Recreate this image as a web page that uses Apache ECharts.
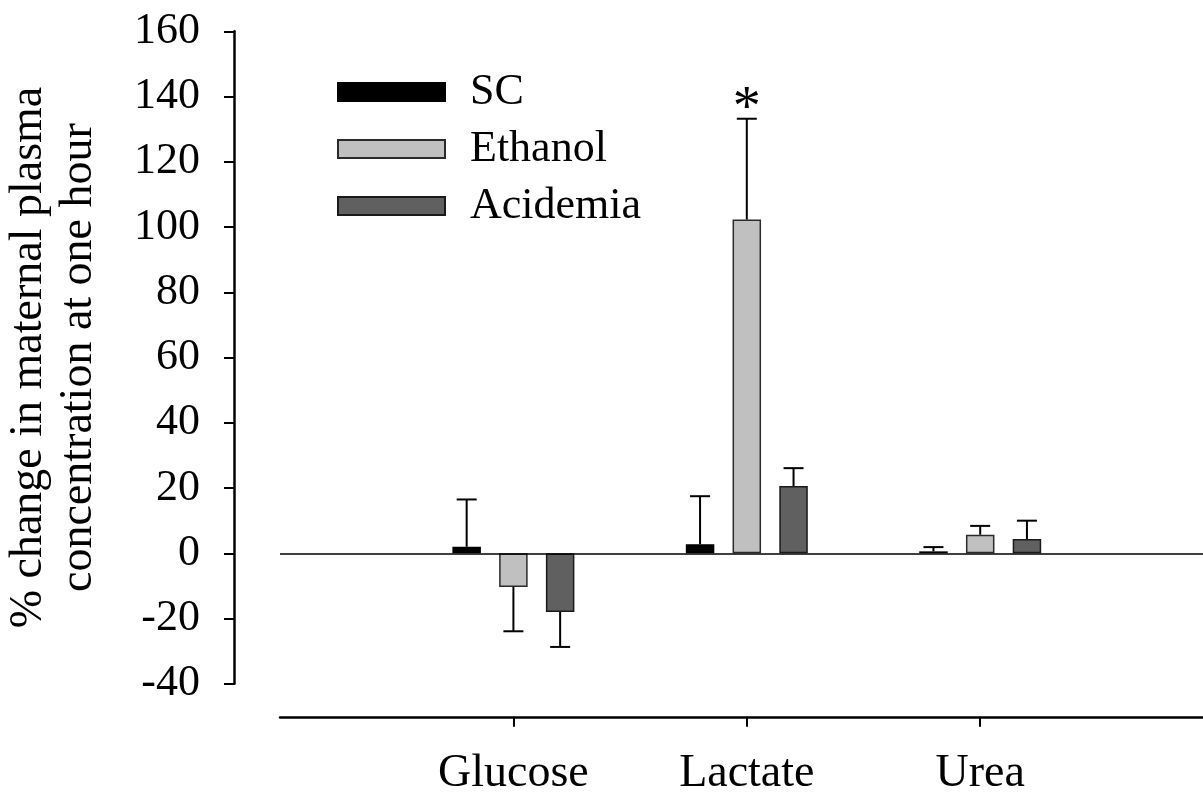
<!DOCTYPE html>
<html>
<head>
<meta charset="utf-8">
<script src="https://cdn.jsdelivr.net/npm/echarts@6/dist/echarts.min.js"></script>
<style>
  html, body { margin: 0; padding: 0; background: #fff; }
  #chart { width: 1203px; height: 796px; }
</style>
</head>
<body>
<div id="chart"></div>
<script>
// Measured analytes (blank slots pad the axis on both sides)
const categories = ['', 'Glucose', 'Lactate', 'Urea', ''];
const analytes = ['Glucose', 'Lactate', 'Urea'];

// Mean % change at one hour, and SD (drawn one-sided, away from zero)
const scMean       = [2.0, 2.8, 0.6];
const scSD         = [14.5, 14.7, 1.3];
const ethanolMean  = [-10.3, 102.3, 5.7];
const ethanolSD    = [13.6, 30.9, 2.7];
const acidemiaMean = [-18.0, 20.6, 4.4];
const acidemiaSD   = [10.7, 5.5, 5.6];

// Significance marks per group
const ethanolSig  = ['', '*', ''];

const yTicks = { min: -40, max: 160, step: 20 };

const FONT = '"Liberation Serif", "Times New Roman", serif';
const BAR_WIDTH = 28.5;
const BAR_GAP = 0.64;

const groups = [
  { name: 'SC', mean: scMean, sd: scSD, color: '#000000', border: '#000000', sig: ['', '', ''] },
  { name: 'Ethanol', mean: ethanolMean, sd: ethanolSD, color: '#c0c0c0', border: '#2a2a2a', sig: ethanolSig },
  { name: 'Acidemia', mean: acidemiaMean, sd: acidemiaSD, color: '#606060', border: '#1a1a1a', sig: ['', '', ''] }
];

const chart = echarts.init(document.getElementById('chart'), null, { renderer: 'canvas' });

const series = [];
groups.forEach((g, gi) => {
  series.push({
    name: g.name,
    type: 'bar',
    barWidth: BAR_WIDTH,
    barGap: (BAR_GAP * 100) + '%',
    itemStyle: { color: g.color, borderColor: g.border, borderWidth: 1.5 },
    data: g.mean.map((v, k) => [categories.indexOf(analytes[k]), v]),
    z: 2,
    markLine: gi === 0 ? {
      silent: true,
      symbol: ['none', 'none'],
      label: { show: false },
      lineStyle: { color: '#000', width: 1.5, type: 'solid' },
      data: [{ yAxis: 0 }]
    } : undefined
  });
});

// One-sided error bars with a cap, plus significance marks
groups.forEach((g, gi) => {
  const offset = (gi - 1) * BAR_WIDTH * (1 + BAR_GAP);
  series.push({
    type: 'custom',
    silent: true,
    z: 5,
    data: g.mean.map((v, k) => [categories.indexOf(analytes[k]), v, g.sd[k], k]),
    encode: { x: 0, y: 1 },
    renderItem: function (params, api) {
      const cat = api.value(0);
      const mean = api.value(1);
      const sd = api.value(2);
      const k = api.value(3);
      const dir = mean >= 0 ? 1 : -1;
      const p0 = api.coord([cat, mean]);
      const p1 = api.coord([cat, mean + dir * sd]);
      const x = p0[0] + offset;
      const style = { stroke: '#000', lineWidth: 2 };
      const children = [
        { type: 'line', shape: { x1: x, y1: p0[1], x2: x, y2: p1[1] }, style: style },
        { type: 'line', shape: { x1: x - 10, y1: p1[1], x2: x + 10, y2: p1[1] }, style: style }
      ];
      if (g.sig[k]) {
        children.push({
          type: 'text',
          style: {
            text: g.sig[k], x: x, y: p1[1] + 20,
            align: 'center', verticalAlign: 'bottom',
            font: '56px ' + FONT, fill: '#000'
          }
        });
      }
      return { type: 'group', children: children };
    }
  });
});

chart.setOption({
  animation: false,
  backgroundColor: '#fff',
  textStyle: { fontFamily: FONT, color: '#000' },
  grid: {
    left: 280, right: -10.6, top: 31.3, bottom: 112.2,
    containLabel: false, outerBoundsMode: 'none'
  },
  legend: {
    orient: 'vertical',
    left: 337,
    top: 69,
    padding: 0,
    itemWidth: 107,
    itemHeight: 18,
    itemGap: 11,
    icon: 'rect',
    selectedMode: false,
    data: groups.map(g => g.name),
    textStyle: { fontFamily: FONT, fontSize: 44, color: '#000', lineHeight: 46, padding: [0, 0, 0, 20] }
  },
  xAxis: {
    type: 'category',
    data: categories,
    boundaryGap: false,
    position: 'bottom',
    offset: 33,
    axisLine: { onZero: false, lineStyle: { color: '#000', width: 2.5 } },
    axisTick: {
      show: true, inside: false, length: 10,
      interval: (idx, val) => val !== '',
      lineStyle: { color: '#000', width: 2 }
    },
    axisLabel: { fontFamily: FONT, fontSize: 46, color: '#000', margin: 34, interval: 0 },
    splitLine: { show: false }
  },
  yAxis: {
    type: 'value',
    min: yTicks.min,
    max: yTicks.max,
    interval: yTicks.step,
    position: 'left',
    offset: 46,
    name: '% change in maternal plasma\nconcentration at one hour',
    nameLocation: 'middle',
    nameGap: 130,
    nameTextStyle: { fontFamily: FONT, fontSize: 46, color: '#000', lineHeight: 50 },
    axisLine: { show: true, onZero: false, lineStyle: { color: '#000', width: 2.5 } },
    axisTick: { show: true, inside: false, length: 10, lineStyle: { color: '#000', width: 2 } },
    axisLabel: { fontFamily: FONT, fontSize: 44, color: '#000', margin: 34 },
    splitLine: { show: false }
  },
  series: series
});
</script>
</body>
</html>
